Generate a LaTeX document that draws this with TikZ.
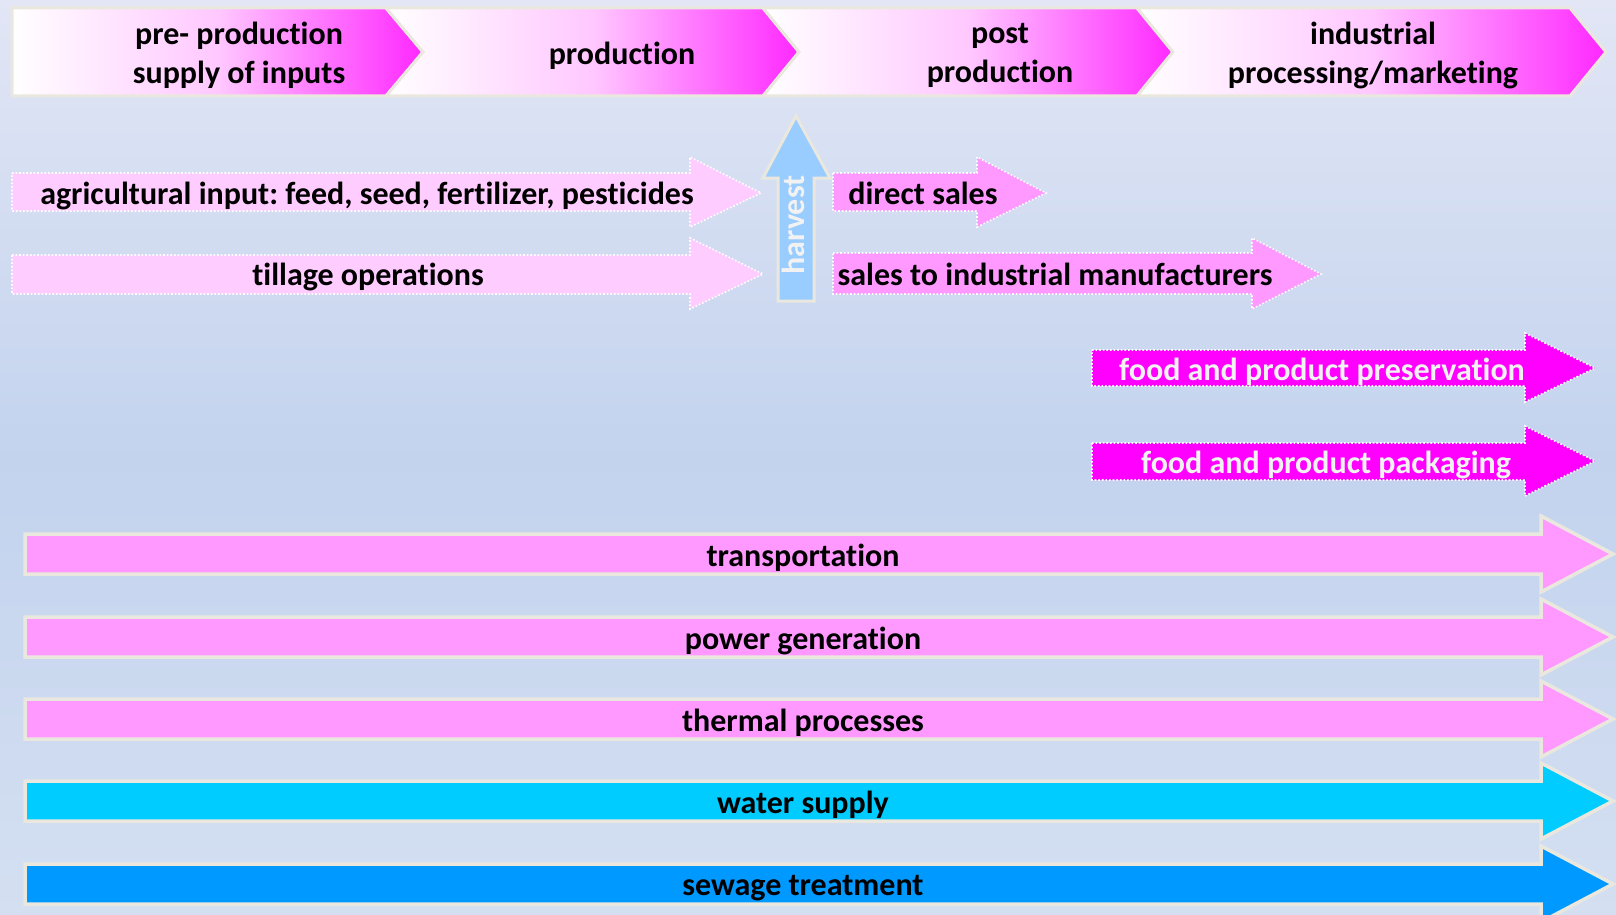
\documentclass[tikz,border=0pt]{standalone}
\usepackage{fontspec}
\setmainfont[Ligatures=NoCommon]{Carlito}
\frenchspacing
\definecolor{bgtop}{RGB}{226,230,245}
\definecolor{bgmid}{RGB}{195,211,238}
\definecolor{bgbot}{RGB}{212,223,241}
\definecolor{edgec}{RGB}{234,232,222}
\definecolor{chevend}{RGB}{255,40,255}
\definecolor{chevmid}{RGB}{255,200,255}
\definecolor{lightpink}{RGB}{255,204,255}
\definecolor{midpink}{RGB}{255,153,255}
\definecolor{magentaf}{RGB}{255,0,255}
\definecolor{harvestblue}{RGB}{153,204,255}
\definecolor{waterc}{RGB}{0,204,255}
\definecolor{sewagec}{RGB}{0,153,255}
\definecolor{paletext}{RGB}{242,242,242}
\tikzset{
  lbl/.style={font=\bfseries\fontsize{16}{19.5}\selectfont, align=center, inner sep=0pt, text=black, yshift=-1.5pt},
  chev/.style={draw=edgec, line width=1.5pt, left color=white, right color=chevend, middle color=chevmid},
  dotarrow/.style={draw=white, densely dotted, line width=0.8pt},
  bigarrow/.style={draw=edgec, line width=1.75pt},
}
\begin{document}
\begin{tikzpicture}[x=0.5pt,y=-0.5pt]
\useasboundingbox (0,0) rectangle (1616,915);
% background
\shade[top color=bgtop, bottom color=bgbot, middle color=bgmid] (0,0) rectangle (1616,915);

% chevrons
\path[chev] (12,8) -- (386,8) -- (423,52) -- (386,96) -- (12,96) -- cycle;
\path[chev] (386,8) -- (763,8) -- (799,52) -- (763,96) -- (386,96) -- (423,52) -- cycle;
\path[chev] (763,8) -- (1137,8) -- (1173,52) -- (1137,96) -- (763,96) -- (799,52) -- cycle;
\path[chev] (1137,8) -- (1570,8) -- (1606,52) -- (1570,96) -- (1137,96) -- (1173,52) -- cycle;
\node[lbl] (pre) at (239,52) {pre- production\\supply of inputs};
\node[lbl] (prod) at (622,53) {production};
\node[lbl] (post) at (1000,52) {post\\production};
\node[lbl] (ind) at (1373,52) {industrial\\processing/marketing};

% harvest arrow
\path[fill=harvestblue, draw=edgec, line width=1.5pt] (778,301) -- (778,178) -- (763,178) -- (796,116) -- (830,178) -- (814,178) -- (814,301) -- cycle;
\node[lbl, text=paletext, rotate=90, yshift=1.5pt] (harv) at (796,222) {harvest};

% production inputs
\path[fill=lightpink, dotarrow] (12,173) -- (690,173) -- (690,157) -- (761,193) -- (690,227) -- (690,211) -- (12,211) -- cycle;
\node[lbl] (agri) at (367,193) {agricultural input: feed, seed, fertilizer, pesticides};
\path[fill=lightpink, dotarrow] (12,255) -- (690,255) -- (690,238) -- (763,274) -- (690,309) -- (690,294) -- (12,294) -- cycle;
\node[lbl] (till) at (368,274) {tillage operations};

% post production sales
\path[fill=midpink, dotarrow] (833,173) -- (977,173) -- (977,157) -- (1046,193) -- (977,227) -- (977,211) -- (833,211) -- cycle;
\node[lbl, anchor=west] (direct) at (848,190) {direct sales};
\path[fill=midpink, dotarrow] (833,253) -- (1252,253) -- (1252,238) -- (1321,274) -- (1252,309) -- (1252,294) -- (833,294) -- cycle;
\node[lbl] (salesind) at (1055,271) {sales to industrial manufacturers};

% food arrows
\path[fill=magentaf, dotarrow] (1092,350) -- (1525,350) -- (1525,333) -- (1595,368) -- (1525,402) -- (1525,386) -- (1092,386) -- cycle;
\node[lbl, text=paletext] (pres) at (1322,369) {food and product preservation};
\path[fill=magentaf, dotarrow] (1092,443) -- (1525,443) -- (1525,426) -- (1595,461) -- (1525,496) -- (1525,480) -- (1092,480) -- cycle;
\node[lbl, text=paletext] (pack) at (1326,462) {food and product packaging};

% long arrows
\foreach \yc/\col/\txt/\nm in {554/midpink/transportation/trans, 637/midpink/power generation/power, 719/midpink/thermal processes/therm, 801/waterc/water supply/water, 884/sewagec/sewage treatment/sewage}{
  \path[bigarrow, fill=\col] (25,\yc-20) -- (1541,\yc-20) -- (1541,\yc-38) -- (1613,\yc) -- (1541,\yc+38) -- (1541,\yc+20) -- (25,\yc+20) -- cycle;
  \node[lbl] (\nm) at (803,\yc+1) {\txt};
}
\end{tikzpicture}
\end{document}
